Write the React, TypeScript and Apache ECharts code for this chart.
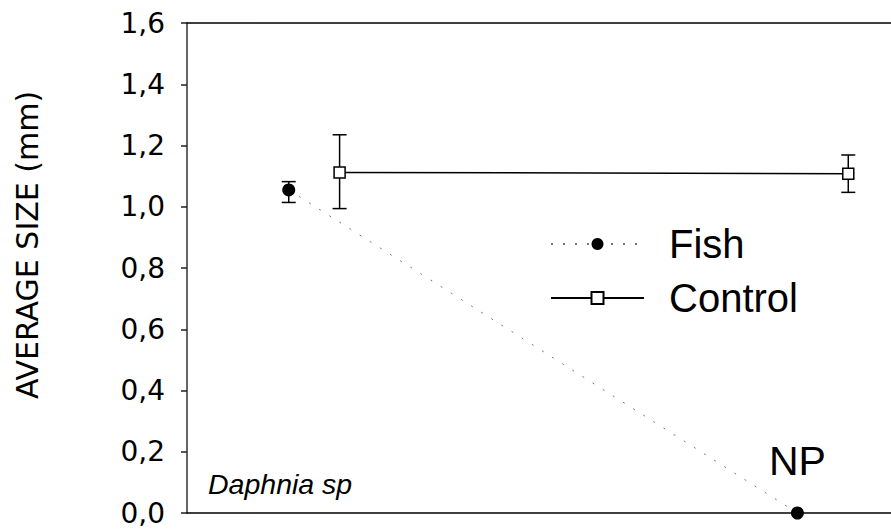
import React, { useEffect, useRef } from "react";
import * as echarts from "echarts";

// Sampling occasions (hidden x axis) and horizontal offset of each treatment
const occasions = [1, 2];
const fishOffset = -0.05;
const controlOffset = 0.05;

// Mean Daphnia size (mm)
const fishMeans = [1.055, 0.0];
const controlMeans = [1.112, 1.108];

// Error bars [low, high] (null = not present)
const fishErr: ([number, number] | null)[] = [[1.014, 1.082], null];
const controlErr: ([number, number] | null)[] = [[0.994, 1.235], [1.047, 1.169]];

// Point annotations
const fishNotes = ["", "NP"];

const yTicks = [0, 0.2, 0.4, 0.6, 0.8, 1.0, 1.2, 1.4, 1.6];

export default function App() {
  const ref = useRef<HTMLDivElement>(null);
  useEffect(() => {
    if (!ref.current) return;
    const chart = echarts.init(ref.current, null, { renderer: "svg" });

    const fishData = occasions.map((o, i) => {
      const item: any = { value: [o + fishOffset, fishMeans[i]] };
      if (fishNotes[i]) {
        item.label = {
          show: true,
          formatter: fishNotes[i],
          position: "top",
          distance: 25,
          fontFamily: "Liberation Sans",
          fontSize: 41,
          color: "#000",
        };
      }
      return item;
    });
    const controlData = occasions.map((o, i) => [o + controlOffset, controlMeans[i]]);

    const errData: number[][] = [];
    occasions.forEach((o, i) => {
      const f = fishErr[i];
      if (f) errData.push([o + fishOffset, f[0], f[1]]);
      const c = controlErr[i];
      if (c) errData.push([o + controlOffset, c[0], c[1]]);
    });

    chart.setOption({
      animation: false,
      backgroundColor: "#fff",
      grid: { left: 187, right: 0, top: 23, bottom: 19 },
      xAxis: [
        {
          type: "value",
          min: 0.75,
          max: 2.134,
          position: "bottom",
          axisLine: { show: true, onZero: false, lineStyle: { color: "#000", width: 1.5 } },
          axisTick: { show: false },
          axisLabel: { show: false },
          splitLine: { show: false },
        },
        {
          type: "value",
          min: 0.75,
          max: 2.134,
          position: "top",
          axisLine: { show: true, onZero: false, lineStyle: { color: "#000", width: 1.5 } },
          axisTick: { show: false },
          axisLabel: { show: false },
          splitLine: { show: false },
        },
      ],
      yAxis: {
        type: "value",
        min: yTicks[0],
        max: yTicks[yTicks.length - 1],
        interval: 0.2,
        name: "AVERAGE SIZE (mm)",
        nameLocation: "middle",
        nameRotate: 90,
        nameGap: 145,
        nameTextStyle: {
          fontFamily: "DejaVu Sans",
          fontSize: 30,
          color: "#000",
          padding: [0, 0, 0, 46],
        },
        axisLine: { show: true, lineStyle: { color: "#666", width: 2 } },
        axisTick: { show: true, length: 6, lineStyle: { color: "#222", width: 1.5 } },
        axisLabel: {
          margin: 22,
          fontFamily: "DejaVu Sans",
          fontSize: 28,
          color: "#000",
          formatter: (v: number) => v.toFixed(1).replace(".", ","),
        },
        splitLine: { show: false },
      },
      legend: {
        data: ["Fish", "Control"],
        orient: "vertical",
        left: 550,
        top: 224,
        padding: 0,
        itemGap: 14,
        itemWidth: 93,
        itemHeight: 15,
        textStyle: {
          fontFamily: "Liberation Sans",
          fontSize: 40,
          color: "#000",
          padding: [0, 0, 0, 20],
        },
      },
      graphic: [
        {
          type: "text",
          left: 208,
          top: 469,
          style: {
            text: "Daphnia sp",
            font: "italic 28.5px 'Liberation Sans'",
            fill: "#000",
          },
        },
      ],
      series: [
        {
          type: "custom",
          name: "errors",
          z: 1,
          data: errData,
          encode: { x: 0, y: [1, 2] },
          renderItem: (params: any, api: any) => {
            const x = api.value(0);
            const lo = api.coord([x, api.value(1)]);
            const hi = api.coord([x, api.value(2)]);
            const w = 7;
            const st = { stroke: "#000", lineWidth: 1.5 };
            return {
              type: "group",
              children: [
                { type: "line", shape: { x1: lo[0], y1: lo[1], x2: hi[0], y2: hi[1] }, style: st },
                { type: "line", shape: { x1: lo[0] - w, y1: lo[1], x2: lo[0] + w, y2: lo[1] }, style: st },
                { type: "line", shape: { x1: hi[0] - w, y1: hi[1], x2: hi[0] + w, y2: hi[1] }, style: st },
              ],
            };
          },
        },
        {
          type: "line",
          name: "Fish",
          z: 3,
          data: fishData,
          symbol: "circle",
          symbolSize: 13,
          itemStyle: { color: "#000" },
          lineStyle: { color: "#777", width: 1, type: [2, 10] },
        },
        {
          type: "line",
          name: "Control",
          z: 3,
          data: controlData,
          symbol: "rect",
          symbolSize: 11,
          itemStyle: { color: "#fff", borderColor: "#000", borderWidth: 1.5 },
          lineStyle: { color: "#000", width: 1.5, type: "solid" },
        },
      ],
    });
    return () => chart.dispose();
  }, []);
  return (
    <div
      ref={ref}
      style={{ position: "fixed", left: 0, top: 0, width: 891, height: 532 }}
    />
  );
}
